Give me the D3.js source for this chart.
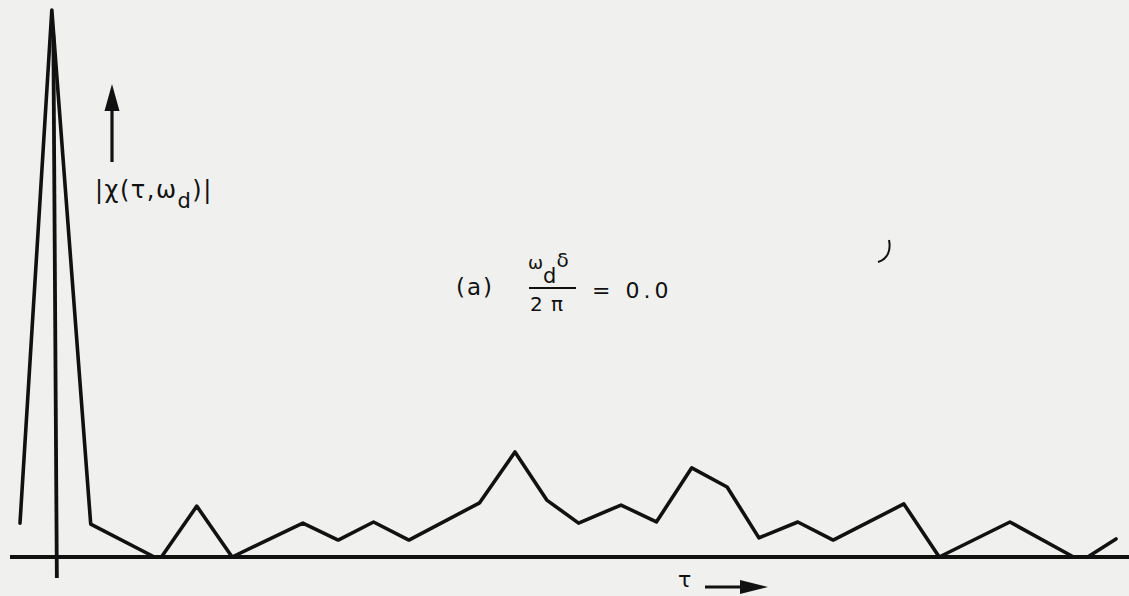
<!DOCTYPE html>
<html>
<head>
<meta charset="utf-8">
<script src="https://cdn.jsdelivr.net/npm/d3@7"></script>
<style>
  body { margin: 0; background: #f0f0ee; }
  svg { display: block; }
  text { font-family: "DejaVu Sans", sans-serif; fill: #111; }
</style>
</head>
<body>
<div id="chart"></div>
<script>
// tau positions (sample units) and |chi(tau, wd)| magnitudes
const tauValues = [-1, -0.1, 1, 2.8, 3, 4, 5, 7, 8, 9, 10, 12, 13, 13.9, 14.8, 16, 17, 18, 19, 19.9, 21, 22, 24, 25, 27, 28.8, 29.2, 30];
const magnitudes = [0.062, 1.0, 0.06, 0, 0, 0.093, 0, 0.062, 0.031, 0.064, 0.031, 0.099, 0.192, 0.104, 0.062, 0.095, 0.064, 0.163, 0.128, 0.035, 0.064, 0.031, 0.097, 0, 0.064, 0, 0, 0.033];
const tauDomain = [-1, 30];
const magDomain = [0, 1];

const width = 1129;
const height = 596;
const ink = "#111";

const data = tauValues.map((t, i) => ({ t, v: magnitudes[i] }));

const svg = d3.select("#chart")
  .append("svg")
  .attr("width", width)
  .attr("height", height);

const x = d3.scaleLinear().domain(tauDomain).range([20, 1116]);
const y = d3.scaleLinear().domain(magDomain).range([557, 10]);

// axes (hand drawn look, no ticks)
svg.append("line")
  .attr("x1", 10).attr("x2", width)
  .attr("y1", y(0)).attr("y2", y(0))
  .attr("stroke", ink).attr("stroke-width", 3.8);

svg.append("line")
  .attr("x1", x(0) - 2).attr("x2", x(0) + 1.5)
  .attr("y1", 35).attr("y2", y(0) + 21)
  .attr("stroke", ink).attr("stroke-width", 3.8);

// the curve
const line = d3.line().x(d => x(d.t)).y(d => y(d.v));
svg.append("path")
  .datum(data)
  .attr("d", line)
  .attr("fill", "none")
  .attr("stroke", ink)
  .attr("stroke-width", 3.6)
  .attr("stroke-linejoin", "round")
  .attr("stroke-linecap", "round");

// up arrow for the magnitude
svg.append("line")
  .attr("x1", 112).attr("x2", 112)
  .attr("y1", 162).attr("y2", 100)
  .attr("stroke", ink).attr("stroke-width", 3.2);
svg.append("path")
  .attr("d", "M112,84 L104.5,111 L119.5,111 Z")
  .attr("fill", ink);

// y label |χ(τ,ω_d)|
const ylab = svg.append("text")
  .attr("x", 95).attr("y", 198)
  .attr("font-size", 24)
  .attr("letter-spacing", 1.5);
ylab.append("tspan").text("|χ(τ,ω");
ylab.append("tspan").attr("dy", 10).attr("font-size", 21).text("d");
ylab.append("tspan").attr("dy", -10).text(")|");

// caption (a)  ω_d δ / 2π = 0.0
svg.append("text")
  .attr("x", 456).attr("y", 295)
  .attr("font-size", 23)
  .attr("letter-spacing", 2)
  .text("(a)");

const num = svg.append("text")
  .attr("x", 528).attr("y", 269)
  .attr("font-size", 18);
num.append("tspan").text("ω");
num.append("tspan").attr("dy", 14).attr("font-size", 21).text("d");
num.append("tspan").attr("dy", -16).attr("font-size", 20).text("δ");

svg.append("line")
  .attr("x1", 529).attr("x2", 576)
  .attr("y1", 288).attr("y2", 288)
  .attr("stroke", ink).attr("stroke-width", 2);

svg.append("text")
  .attr("x", 530).attr("y", 311)
  .attr("font-size", 20)
  .attr("letter-spacing", 1)
  .text("2 π");

svg.append("text")
  .attr("x", 592).attr("y", 298)
  .attr("font-size", 22)
  .attr("letter-spacing", 4)
  .text("= 0.0");

// tau arrow
svg.append("text")
  .attr("x", 678).attr("y", 587)
  .attr("font-size", 22)
  .text("τ");
svg.append("line")
  .attr("x1", 705).attr("x2", 748)
  .attr("y1", 587).attr("y2", 587)
  .attr("stroke", ink).attr("stroke-width", 3.2);
svg.append("path")
  .attr("d", "M768,587 L740,580 L740,594 Z")
  .attr("fill", ink);

// small stray pen mark seen on the scan
svg.append("path")
  .attr("d", "M889,240 C891,250 888,259 878,262")
  .attr("fill", "none")
  .attr("stroke", ink)
  .attr("stroke-width", 2);
</script>
</body>
</html>
